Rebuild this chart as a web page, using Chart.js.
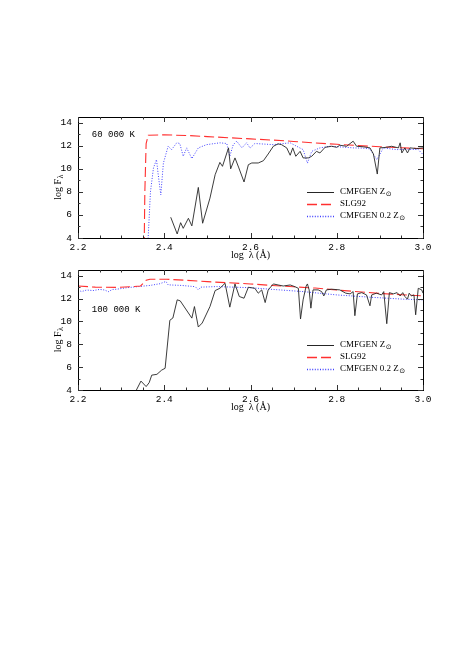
<!DOCTYPE html>
<html>
<head>
<meta charset="utf-8">
<script src="https://cdn.jsdelivr.net/npm/chart.js@4.4.0/dist/chart.umd.min.js"></script>
<style>
html, body { margin: 0; padding: 0; background: #fff; }
#wrap { position: relative; width: 458px; height: 666px; }
canvas { position: absolute; left: 0; }
</style>
</head>
<body>
<div id="wrap">
  <canvas id="topChart" width="458" height="165" style="top:100px"></canvas>
  <canvas id="botChart" width="458" height="160" style="top:253px"></canvas>
</div>
<script>
// Tick labels
const xTicks = [2.2, 2.4, 2.6, 2.8, 3.0];
const yTicks = [4, 6, 8, 10, 12, 14];
const seriesNames = ["CMFGEN Z⊙", "SLG92", "CMFGEN 0.2 Z⊙"];
const panelLabels = ["60 000 K", "100 000 K"];

// Panel atas: 60 000 K
const topSolarX = [2.415, 2.430, 2.438, 2.444, 2.456, 2.464, 2.479, 2.489, 2.506, 2.518, 2.529, 2.535, 2.549, 2.554,
    2.564, 2.573, 2.585, 2.595, 2.603, 2.618, 2.630, 2.641, 2.653, 2.664, 2.672, 2.684, 2.692, 2.698, 2.705, 2.715,
    2.722, 2.734, 2.742, 2.753, 2.761, 2.773, 2.788, 2.800, 2.807, 2.823, 2.838, 2.846, 2.862, 2.877, 2.885, 2.894,
    2.900, 2.916, 2.927, 2.943, 2.947, 2.951, 2.958, 2.964, 2.970, 2.985, 3.000];
const topSolarY = [5.8, 4.35, 5.33, 4.84, 5.71, 5.05, 8.39, 5.28, 7.46, 9.49, 10.56, 10.22, 11.82, 10.0,
    10.95, 10.08, 8.86, 10.36, 10.51, 10.51, 10.71, 11.29, 11.96, 12.17, 12.1, 11.82, 11.18, 11.82, 11.09, 11.52,
    10.95, 10.95, 11.09, 11.52, 11.38, 11.87, 11.96, 11.87, 12.05, 11.96, 12.4, 11.96, 11.91, 11.82, 11.29, 9.55,
    11.82, 11.87, 11.96, 11.82, 12.26, 11.38, 11.82, 11.38, 11.82, 11.76, 11.82];

const topSlgX = [2.353, 2.355, 2.358, 2.363, 2.40, 2.45, 2.50, 2.55, 2.60, 2.65, 2.70, 2.75, 2.80, 2.85, 2.90, 2.95, 3.00];
const topSlgY = [2.0, 8.0, 12.2, 12.92, 12.95, 12.9, 12.8, 12.7, 12.6, 12.5, 12.38, 12.25, 12.13, 12.02, 11.92, 11.83, 11.75];

const topLowZX = [2.362, 2.368, 2.375, 2.382, 2.386, 2.392, 2.398, 2.409, 2.417, 2.429, 2.436, 2.444, 2.452, 2.464,
    2.479, 2.498, 2.529, 2.545, 2.552, 2.560, 2.568, 2.580, 2.591, 2.599, 2.610, 2.653, 2.692, 2.707, 2.722, 2.732,
    2.742, 2.761, 2.784, 2.810, 2.838, 2.860, 2.877, 2.893, 2.908, 2.939, 2.965, 2.989, 3.000];
const topLowZY = [3.5, 8.0, 10.08, 10.8, 9.5, 7.75, 10.5, 11.96, 11.67, 12.26, 12.2, 11.09, 11.82, 10.89,
    11.82, 12.1, 12.26, 12.2, 11.09, 12.1, 12.4, 11.82, 12.26, 11.8, 12.2, 12.1, 12.26, 11.96, 11.67, 10.5,
    11.52, 11.82, 11.96, 11.9, 11.82, 11.8, 11.73, 10.8, 11.82, 11.67, 11.7, 11.67, 11.24];

// Panel bawah: 100 000 K
const botSolarX = [2.330, 2.346, 2.358, 2.365, 2.371, 2.383, 2.394, 2.402, 2.413, 2.420, 2.430, 2.437, 2.464, 2.470,
    2.479, 2.488, 2.506, 2.518, 2.529, 2.541, 2.552, 2.564, 2.574, 2.585, 2.595, 2.610, 2.618, 2.626, 2.634, 2.641,
    2.653, 2.664, 2.676, 2.692, 2.703, 2.711, 2.716, 2.722, 2.729, 2.732, 2.736, 2.740, 2.745, 2.757, 2.765, 2.770,
    2.776, 2.788, 2.807, 2.821, 2.831, 2.838, 2.842, 2.848, 2.858, 2.869, 2.877, 2.881, 2.892, 2.904, 2.909, 2.916,
    2.922, 2.931, 2.940, 2.947, 2.953, 2.958, 2.964, 2.968, 2.973, 2.979, 2.983, 2.989, 2.997, 3.000];
const botSolarY = [3.6, 4.78, 4.3, 4.64, 5.3, 5.37, 5.74, 5.9, 10.1, 10.3, 11.89, 11.8, 10.29, 11.3,
    9.51, 9.86, 11.3, 12.7, 12.9, 13.34, 11.25, 13.28, 12.18, 12.03, 12.99, 12.9, 12.47, 12.76, 11.65, 12.76,
    13.28, 13.19, 13.1, 13.19, 13.04, 12.9, 10.21, 11.89, 13.1, 13.28, 12.76, 11.16, 12.76, 12.76, 12.61, 12.23,
    12.76, 12.82, 12.76, 12.47, 12.41, 12.61, 10.5, 12.41, 12.52, 12.32, 11.37, 12.32, 12.47, 12.32, 12.61, 9.8,
    12.52, 12.41, 12.52, 12.23, 12.52, 12.18, 11.95, 12.47, 12.23, 12.32, 10.58, 12.9, 12.76, 12.47];

const botSlgX = [2.20, 2.24, 2.29, 2.33, 2.345, 2.358, 2.367, 2.406, 2.45, 2.50, 2.55, 2.60, 2.65, 2.70, 2.75, 2.80, 2.85, 2.90, 2.95, 3.00];
const botSlgY = [13.1, 13.0, 12.98, 13.05, 13.1, 13.6, 13.69, 13.69, 13.6, 13.48, 13.38, 13.28, 13.15, 13.03, 12.92, 12.75, 12.6, 12.45, 12.34, 12.23];

const botLowZX = [2.200, 2.208, 2.220, 2.235, 2.250, 2.262, 2.270, 2.280, 2.290, 2.313, 2.340, 2.367, 2.390, 2.404,
    2.409, 2.440, 2.472, 2.479, 2.485, 2.522, 2.560, 2.600, 2.645, 2.722, 2.800, 2.877, 2.954, 3.000];
const botLowZY = [12.76, 12.61, 12.75, 12.7, 12.8, 12.75, 12.6, 12.8, 12.82, 12.95, 13.05, 13.15, 13.3, 13.5,
    13.2, 13.15, 13.04, 12.76, 13.0, 13.05, 13.0, 12.95, 12.82, 12.61, 12.32, 12.12, 11.95, 11.89];

// Gaya garis tiap seri (urutan sama dengan seriesNames)
const seriesStyles = [
    { color: "#262626", dash: [], width: 0.9 },
    { color: "#ff3030", dash: [10, 4], width: 1.1 },
    { color: "#4040ff", dash: [1, 1.6], width: 1 }
];

function toPoints(xs, ys) {
    return xs.map((x, i) => ({ x: x, y: ys[i] }));
}

// Subscript ⊙ untuk teks legenda
function drawWithSub(ctx, text, x, y, font, subFont, subShift) {
    const parts = text.split("⊙");
    ctx.font = font;
    ctx.fillText(parts[0], x, y);
    if (parts.length > 1) {
        const w = ctx.measureText(parts[0]).width;
        ctx.font = subFont;
        ctx.fillText("⊙", x + w + 0.5, y + subShift);
    }
}

// Bingkai, tick ke dalam, judul sumbu, legenda
const framePlugin = {
    id: "frame",
    afterDatasetsDraw(chart, args, opts) {
        const ctx = chart.ctx;
        const a = chart.chartArea;
        const xs = chart.scales.x;
        const ys = chart.scales.y;
        ctx.save();
        ctx.strokeStyle = "#000";
        ctx.lineWidth = 1;
        ctx.setLineDash([]);
        ctx.strokeRect(Math.round(a.left) + 0.5, Math.round(a.top) + 0.5, Math.round(a.right - a.left), Math.round(a.bottom - a.top));

        ctx.strokeStyle = "#333";
        ctx.beginPath();
        for (let k = 0; k <= 16; k++) {
            const v = 2.2 + k * 0.05;
            const px = Math.round(xs.getPixelForValue(v)) + 0.5;
            const len = k % 4 === 0 ? 5 : 2.5;
            ctx.moveTo(px, a.bottom); ctx.lineTo(px, a.bottom - len);
            ctx.moveTo(px, a.top); ctx.lineTo(px, a.top + len);
        }
        for (let v = 4; v <= 14; v++) {
            const py = Math.round(ys.getPixelForValue(v)) + 0.5;
            const len = v % 2 === 0 ? 5 : 2.5;
            ctx.moveTo(a.left, py); ctx.lineTo(a.left + len, py);
            ctx.moveTo(a.right, py); ctx.lineTo(a.right - len, py);
        }
        ctx.stroke();

        ctx.fillStyle = "#000";
        ctx.textBaseline = "middle";

        // Label suhu
        ctx.font = '9px "Liberation Mono"';
        ctx.textAlign = "left";
        ctx.fillText(opts.label, xs.getPixelForValue(opts.labelX), ys.getPixelForValue(opts.labelY));

        // Judul sumbu x
        ctx.font = '10px "Liberation Serif"';
        ctx.textAlign = "center";
        ctx.fillText("log  λ (Å)", (a.left + a.right) / 2, a.bottom + 17.5);

        // Judul sumbu y: log F_λ
        ctx.save();
        ctx.translate(58, (a.top + a.bottom) / 2 + 10);
        ctx.rotate(-Math.PI / 2);
        ctx.textAlign = "left";
        ctx.font = '10px "Liberation Serif"';
        const w1 = ctx.measureText("log F").width;
        ctx.font = '8px "Liberation Serif"';
        const w2 = ctx.measureText("λ").width;
        const x0 = -(w1 + w2) / 2;
        ctx.font = '10px "Liberation Serif"';
        ctx.fillText("log F", x0, 0);
        ctx.font = '8px "Liberation Serif"';
        ctx.fillText("λ", x0 + w1 + 0.5, 2.5);
        ctx.restore();

        // Legenda
        ctx.textAlign = "left";
        seriesNames.forEach((name, i) => {
            const st = seriesStyles[i];
            const yy = Math.round(a.top + 75 + i * 11.8);
            ctx.strokeStyle = st.color;
            ctx.lineWidth = i === 0 ? 1 : 1.4;
            ctx.setLineDash(st.dash);
            ctx.beginPath();
            ctx.moveTo(a.left + 229, yy + 0.5);
            ctx.lineTo(a.left + 256, yy + 0.5);
            ctx.stroke();
            ctx.setLineDash([]);
            ctx.fillStyle = "#000";
            drawWithSub(ctx, name, a.left + 262, yy, '9px "Liberation Serif"', '7px "DejaVu Sans"', 2.5);
        });
        ctx.restore();
    }
};

function makePanel(canvasId, solar, slg, lowZ, label, labelY, xAxisHeight) {
    const datasets = [solar, slg, lowZ].map((pts, i) => ({
        label: seriesNames[i],
        data: pts,
        borderColor: seriesStyles[i].color,
        borderWidth: seriesStyles[i].width,
        borderDash: seriesStyles[i].dash,
        pointRadius: 0,
        tension: 0,
        fill: false
    }));
    return new Chart(document.getElementById(canvasId).getContext("2d"), {
        type: "line",
        data: { datasets: datasets },
        options: {
            responsive: false,
            animation: false,
            events: [],
            layout: { padding: { top: 17, right: 35, left: 0, bottom: 0 } },
            plugins: {
                legend: { display: false },
                tooltip: { enabled: false },
                frame: { label: label, labelX: 2.232, labelY: labelY }
            },
            scales: {
                x: {
                    type: "linear",
                    min: 2.2,
                    max: 3.0,
                    grid: { display: false, drawTicks: false },
                    border: { display: false },
                    ticks: {
                        color: "#000",
                        font: { family: "Liberation Mono", size: 9.5 },
                        padding: 4,
                        maxRotation: 0,
                        autoSkip: false,
                        callback: (v) => Number(v).toFixed(1)
                    },
                    afterBuildTicks: (s) => { s.ticks = xTicks.map((v) => ({ value: v })); },
                    afterFit: (s) => { s.height = xAxisHeight; }
                },
                y: {
                    min: 4,
                    max: 14.5,
                    grid: { display: false, drawTicks: false },
                    border: { display: false },
                    ticks: {
                        color: "#000",
                        font: { family: "Liberation Mono", size: 9.5 },
                        padding: 6,
                        callback: (v) => String(v)
                    },
                    afterBuildTicks: (s) => { s.ticks = yTicks.map((v) => ({ value: v })); },
                    afterFit: (s) => { s.width = 78; }
                }
            }
        },
        plugins: [framePlugin]
    });
}

makePanel("topChart", toPoints(topSolarX, topSolarY), toPoints(topSlgX, topSlgY), toPoints(topLowZX, topLowZY),
    panelLabels[0], 12.95, 27);
makePanel("botChart", toPoints(botSolarX, botSolarY), toPoints(botSlgX, botSlgY), toPoints(botLowZX, botLowZY),
    panelLabels[1], 11.0, 23);
</script>
</body>
</html>
